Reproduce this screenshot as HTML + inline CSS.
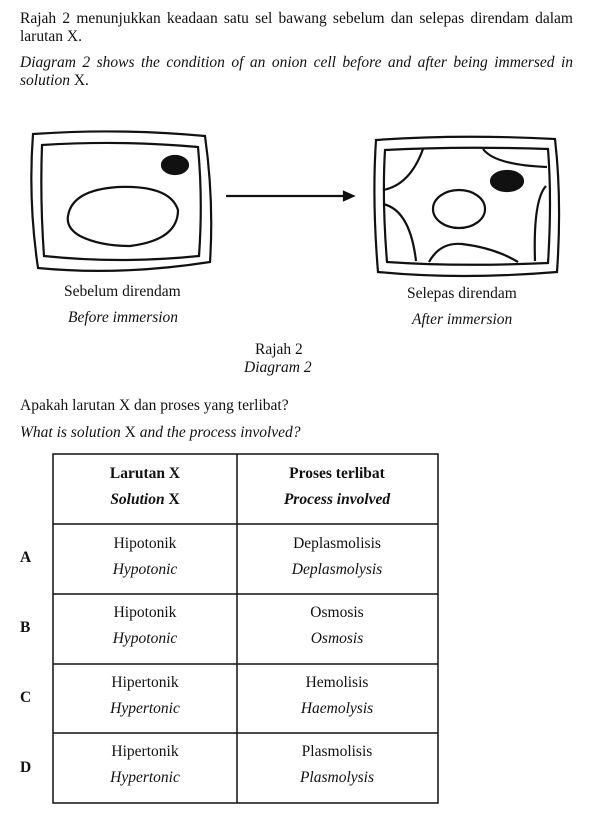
<!DOCTYPE html>
<html><head><style>
body{margin:0;width:615px;height:829px;background:#fff;position:relative;font-family:"Liberation Serif",serif;color:#111;font-size:15.5px;overflow:hidden}
.t{position:absolute;white-space:nowrap}
.j{position:absolute;width:553px;text-align:justify;text-align-last:justify;white-space:nowrap}
i{font-style:italic}
.c{position:absolute;text-align:center;width:184px}
</style></head><body>
<div class="j" style="left:20px;top:10px">Rajah 2 menunjukkan keadaan satu sel bawang sebelum dan selepas direndam dalam</div>
<div class="t" style="left:20px;top:28px">larutan X.</div>
<div class="j" style="left:20px;top:54px"><i>Diagram 2 shows the condition of an onion cell before and after being immersed in</i></div>
<div class="t" style="left:20px;top:72px"><i>solution</i> X.</div>
<svg style="position:absolute;left:0;top:0" width="615" height="300" fill="none" stroke="#111" stroke-width="2.2">
<path d="M33 134 Q120 128 205 136 Q214 200 210 262 Q120 276 38 268 Q28 200 33 134Z"/>
<path d="M42 145 Q120 140 198 147 Q203 200 199 256 Q120 264 44 256 Q40 200 42 145Z"/>
<ellipse cx="175" cy="165" rx="13" ry="9" fill="#111"/>
<path d="M68 216 Q72 190 118 187 Q170 185 178 210 Q178 240 130 246 Q100 246 80 236 Q66 228 68 216Z"/>
<line x1="226" y1="196" x2="346" y2="196"/>
<path d="M344 192 L353 196 L344 200Z" fill="#111"/>
<path d="M376 140 Q460 134 555 139 Q562 200 557 272 Q460 280 378 272 Q372 200 376 140Z"/>
<path d="M385 150 Q460 146 548 149 Q552 200 548 263 Q460 267 387 262 Q382 200 385 150Z"/>
<path d="M383 190 Q410 185 423 149"/>
<path d="M483 149 Q495 165 547 167"/>
<path d="M546 186 Q533 200 535 261"/>
<path d="M429 262 Q440 242 462 244 Q495 248 518 262"/>
<path d="M383 204 Q410 210 416 261"/>
<ellipse cx="507" cy="181" rx="16" ry="10" fill="#111"/>
<ellipse cx="459" cy="209" rx="26" ry="19"/>
</svg>
<div class="t" style="left:64px;top:283px">Sebelum direndam</div>
<div class="t" style="left:68px;top:309px"><i>Before immersion</i></div>
<div class="t" style="left:407px;top:285px">Selepas direndam</div>
<div class="t" style="left:412px;top:311px"><i>After immersion</i></div>
<div class="t" style="left:255px;top:341px">Rajah 2</div>
<div class="t" style="left:244px;top:359px"><i>Diagram 2</i></div>
<div class="t" style="left:20px;top:397px">Apakah larutan X dan proses yang terlibat?</div>
<div class="t" style="left:20px;top:424px"><i>What is solution</i> X <i>and the process involved?</i></div>
<svg style="position:absolute;left:0;top:0" width="615" height="829" stroke="#111" stroke-width="1.5" fill="none">
<rect x="53" y="454" width="385" height="349"/>
<line x1="237" y1="454" x2="237" y2="803"/>
<line x1="53" y1="524" x2="438" y2="524"/>
<line x1="53" y1="594" x2="438" y2="594"/>
<line x1="53" y1="664" x2="438" y2="664"/>
<line x1="53" y1="733" x2="438" y2="733"/>
</svg>
<div class="c" style="left:53px;top:465px;font-weight:bold">Larutan X</div>
<div class="c" style="left:53px;top:491px;font-weight:bold"><i>Solution</i> X</div>
<div class="c" style="left:245px;top:465px;font-weight:bold">Proses terlibat</div>
<div class="c" style="left:245px;top:491px;font-weight:bold"><i>Process involved</i></div>
<div class="t" style="left:20px;top:549px;font-weight:bold">A</div>
<div class="c" style="left:53px;top:535px">Hipotonik</div>
<div class="c" style="left:53px;top:561px"><i>Hypotonic</i></div>
<div class="c" style="left:245px;top:535px">Deplasmolisis</div>
<div class="c" style="left:245px;top:561px"><i>Deplasmolysis</i></div>
<div class="t" style="left:20px;top:619px;font-weight:bold">B</div>
<div class="c" style="left:53px;top:604px">Hipotonik</div>
<div class="c" style="left:53px;top:630px"><i>Hypotonic</i></div>
<div class="c" style="left:245px;top:604px">Osmosis</div>
<div class="c" style="left:245px;top:630px"><i>Osmosis</i></div>
<div class="t" style="left:20px;top:689px;font-weight:bold">C</div>
<div class="c" style="left:53px;top:674px">Hipertonik</div>
<div class="c" style="left:53px;top:700px"><i>Hypertonic</i></div>
<div class="c" style="left:245px;top:674px">Hemolisis</div>
<div class="c" style="left:245px;top:700px"><i>Haemolysis</i></div>
<div class="t" style="left:20px;top:759px;font-weight:bold">D</div>
<div class="c" style="left:53px;top:743px">Hipertonik</div>
<div class="c" style="left:53px;top:769px"><i>Hypertonic</i></div>
<div class="c" style="left:245px;top:743px">Plasmolisis</div>
<div class="c" style="left:245px;top:769px"><i>Plasmolysis</i></div>
</body></html>
